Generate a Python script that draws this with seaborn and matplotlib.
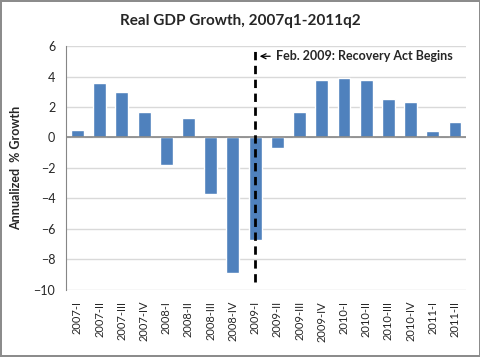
import pandas as pd
import seaborn as sns
import matplotlib.pyplot as plt

# quarters and annualized real GDP growth (%)
quarters = ['2007-I', '2007-II', '2007-III', '2007-IV',
            '2008-I', '2008-II', '2008-III', '2008-IV',
            '2009-I', '2009-II', '2009-III', '2009-IV',
            '2010-I', '2010-II', '2010-III', '2010-IV',
            '2011-I', '2011-II']
growth = [0.5, 3.6, 3.0, 1.7,
          -1.8, 1.3, -3.7, -8.9,
          -6.7, -0.7, 1.7, 3.8,
          3.9, 3.8, 2.5, 2.3,
          0.4, 1.0]
y_ticks = [-10, -8, -6, -4, -2, 0, 2, 4, 6]
act_quarter = '2009-I'
act_label = 'Feb. 2009: Recovery Act Begins'

sns.set_style('white')
plt.rcParams['font.family'] = ['Lato', 'DejaVu Sans']

df = pd.DataFrame({'quarter': quarters, 'growth': growth})

fig = plt.figure(figsize=(4.81, 3.57), dpi=100)
fig.patch.set_edgecolor('#8c8c8c')
fig.patch.set_linewidth(1.5)
ax = fig.add_axes([0.138, 0.188, 0.831, 0.683])

sns.barplot(data=df, x='quarter', y='growth', order=quarters,
            color='#4F81BD', saturation=1, width=0.58, ax=ax, zorder=3)

ax.set_ylim(-10, 6)
ax.set_yticks(y_ticks)
ax.yaxis.grid(True, color='#d9d9d9', linewidth=1, zorder=0)
ax.axhline(0, color='#868686', linewidth=1.2, zorder=4)
for s in ['top', 'right', 'bottom']:
    ax.spines[s].set_visible(False)
ax.spines['left'].set_color('#868686')
ax.tick_params(axis='y', labelsize=9, length=0, pad=8)
ax.tick_params(axis='x', labelsize=8, length=0, rotation=90, pad=8)
ax.set_xlabel('')
ax.set_ylabel('Annualized  % Growth', fontsize=9, fontweight='bold', labelpad=8)
ax.set_xlim(-0.5, len(quarters) - 0.5)

xi = quarters.index(act_quarter)
ax.vlines(xi, -9.5, 6, colors='black', linestyles=(0, (3, 2)), linewidth=2, zorder=5)
ax.annotate(act_label, xy=(xi + 0.08, 5.33), xytext=(xi + 0.95, 5.33),
            fontsize=9, fontweight='bold', va='center', ha='left',
            arrowprops=dict(arrowstyle='->', color='black', lw=0.9))

fig.suptitle('Real GDP Growth, 2007q1-2011q2', x=0.5, y=0.96,
             fontsize=11, fontweight='bold')

fig.savefig('out.png', dpi=100, edgecolor=fig.get_edgecolor())
